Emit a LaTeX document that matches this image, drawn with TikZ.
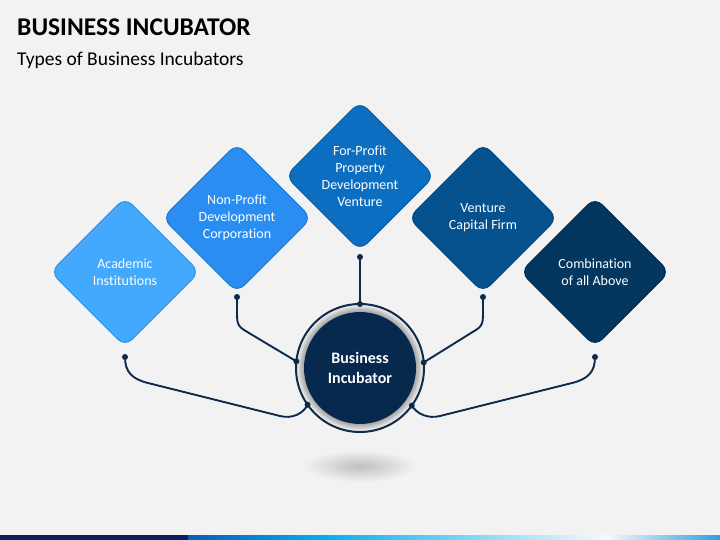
\documentclass[tikz,border=0pt]{standalone}
\usepackage{fontspec}
\setmainfont[Ligatures={NoCommon}]{Carlito}
\usetikzlibrary{shapes.geometric}
\definecolor{bg}{HTML}{F2F2F2}
\definecolor{navy}{HTML}{06294D}
\definecolor{conn}{HTML}{0D2A4B}
\definecolor{ringfill}{HTML}{F8F8F8}
\definecolor{cA}{HTML}{42A9FD}\definecolor{bA}{HTML}{2E90E6}
\definecolor{cB}{HTML}{2A8DF2}\definecolor{bB}{HTML}{1B76D2}
\definecolor{cC}{HTML}{0B6EC0}\definecolor{bC}{HTML}{085AA0}
\definecolor{cD}{HTML}{05528F}\definecolor{bD}{HTML}{03437A}
\definecolor{cE}{HTML}{03375F}\definecolor{bE}{HTML}{022A4C}
\definecolor{stripdark}{HTML}{0B1E5B}
\definecolor{stripA}{HTML}{0B5DB0}
\definecolor{stripB}{HTML}{00AEEF}
\definecolor{stripC}{HTML}{F4FAFD}
\definecolor{stripD}{HTML}{2F9FDD}
\begin{document}
\begin{tikzpicture}[x=1pt,y=-1pt,
  dia/.style={diamond, aspect=1, minimum width=149pt, minimum height=149pt, inner sep=0pt, outer sep=0pt, rounded corners=10pt, line width=1pt},
  dtxt/.style={text=white, font=\fontsize{14}{17}\selectfont, align=center, inner sep=0pt},
  connline/.style={draw=conn, line width=1.9pt},
  dot/.style={fill=conn}]
\useasboundingbox (0,0) rectangle (720,540);
\fill[bg] (0,0) rectangle (720,540);

% title
\node[anchor=base west, inner sep=0pt, font=\bfseries\fontsize{25.5}{30}\selectfont] (title) at (17,35.5) {BUSINESS INCUBATOR};
\node[anchor=base west, inner sep=0pt, font=\fontsize{19.5}{23}\selectfont] (sub) at (17,65.5) {Types of Business Incubators};

% diamonds
\node[dia, fill=cA, draw=bA] (d1) at (125,272) {};
\node[dia, fill=cB, draw=bB] (d2) at (237,218) {};
\node[dia, fill=cD, draw=bD] (d4) at (483,218) {};
\node[dia, fill=cC, draw=bC] (d3) at (360,176) {};
\node[dia, fill=cE, draw=bE] (d5) at (595,272) {};
\node[dtxt] (t1) at (d1) {Academic\\Institutions};
\node[dtxt] (t2) at (d2) {Non-Profit\\Development\\Corporation};
\node[dtxt] (t3) at (d3) {For-Profit\\Property\\Development\\Venture};
\node[dtxt] (t4) at (d4) {Venture\\Capital Firm};
\node[dtxt] (t5) at (d5) {Combination\\of all Above};

% shadow under hub
\shade[inner color=black!25, outer color=bg] (360,466) ellipse [x radius=56pt, y radius=16pt];

% hub
\node[circle, draw=conn, line width=2pt, fill=ringfill, minimum size=128pt, inner sep=0pt, outer sep=0pt] (ring) at (360,368) {};
\foreach \i in {1,...,7} {
  \fill[black, opacity=0.05] (ring.center) circle [radius={56pt+\i pt}];
}
\node[circle, fill=navy, minimum size=112pt, inner sep=0pt, text=white, align=center, font=\bfseries\fontsize{16}{19.5}\selectfont] (core) at (ring.center) {Business\\Incubator};

% connector start points
\coordinate (s1) at (125,357);
\coordinate (s2) at (237,297);
\coordinate (s3) at (360,257);
\coordinate (s4) at (483,297);
\coordinate (s5) at (595,357);

\draw[connline] (s3) -- (ring.90);
\draw[connline] (s2) -- (237,314) .. controls (237,326) and (239,327) .. (249,333) -- (ring.174.6);
\draw[connline] (s4) -- (483,314) .. controls (483,326) and (481,327) .. (471,333) -- (ring.5.4);
\draw[connline] (s1) .. controls (125,372) and (132,379) .. (148,383) -- (280,416) .. controls (292,419) and (303,414) .. (ring.215.7);
\draw[connline] (s5) .. controls (595,372) and (588,379) .. (572,383) -- (440,416) .. controls (428,419) and (417,414) .. (ring.324.3);

\foreach \p in {s1,s2,s3,s4,s5} { \fill[dot] (\p) circle [radius=3pt]; }
\foreach \a in {90,174.6,5.4,215.7,324.3} { \fill[dot] (ring.\a) circle [radius=3pt]; }

% bottom strip
\fill[stripdark] (0,535) rectangle (188,540);
\shade[left color=stripA, right color=stripB] (188,535) rectangle (320,540);
\shade[left color=stripB, right color=stripC] (319.5,535) rectangle (606,540);
\shade[left color=stripC, right color=stripD] (605.5,535) rectangle (720,540);
\end{tikzpicture}
\end{document}
